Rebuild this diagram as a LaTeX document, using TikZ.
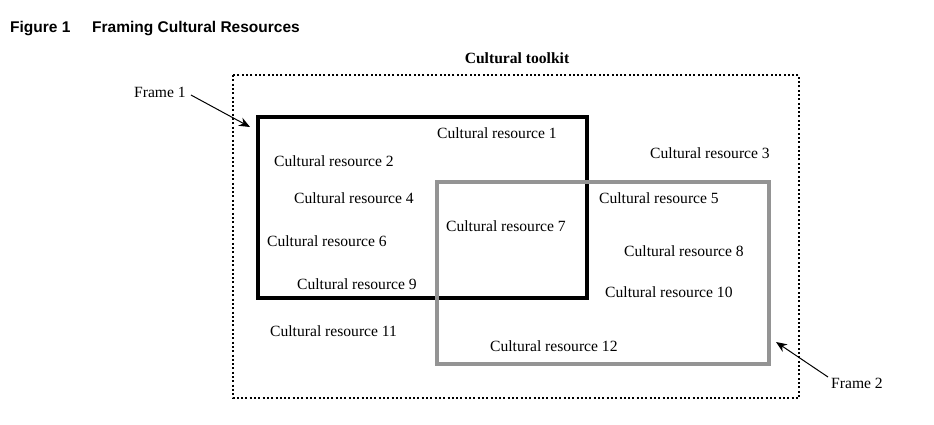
\documentclass[tikz,border=0pt]{standalone}
\usepackage{fontspec}
\setmainfont{Liberation Serif}
\newfontfamily\titlefont{Liberation Sans}
\usetikzlibrary{positioning,arrows.meta}

\tikzset{
  res/.style={anchor=west, inner sep=0pt, font=\fontsize{15.6}{18}\selectfont},
  framelbl/.style={anchor=west, inner sep=0pt, font=\fontsize{15.6}{18}\selectfont},
  ttl/.style={anchor=west, inner sep=0pt, font=\titlefont\bfseries\fontsize{15.5}{18}\selectfont},
  ptr/.style={-{Stealth[length=11pt,width=9pt]}, line width=1pt}
}

\begin{document}
\begin{tikzpicture}[x=1pt, y=-1pt]
    \useasboundingbox (0,0) rectangle (934,424);
    % title
    \node[ttl] (fig) at (10,29) {Figure 1};
    \node[ttl] (title) at (92,29) {Framing Cultural Resources};
    % toolkit and the two frames
    \draw[line width=2pt, dash pattern=on 2pt off 2.3pt] (233,75) rectangle (799,398);
    \node[inner sep=0pt, font=\bfseries\fontsize{15.6}{18}\selectfont] (kit) at (517,58) {Cultural toolkit};
    \draw[line width=3.6pt] (258,117) rectangle (587,298);
    \draw[line width=3.6pt, color=black!42] (437,182) rectangle (769,364);
    \coordinate (f1tip) at (250,127);
    \coordinate (f2tip) at (776,342);
    % resources
    \node[res] (r1) at (437,133) {Cultural resource 1};
    \node[res] (r2) at (274,161) {Cultural resource 2};
    \node[res] (r3) at (650,153) {Cultural resource 3};
    \node[res] (r4) at (294,198) {Cultural resource 4};
    \node[res] (r5) at (599,198) {Cultural resource 5};
    \node[res] (r6) at (267,241) {Cultural resource 6};
    \node[res] (r7) at (446,226) {Cultural resource 7};
    \node[res] (r8) at (624,251) {Cultural resource 8};
    \node[res] (r9) at (297,284) {Cultural resource 9};
    \node[res] (r10) at (605,292) {Cultural resource 10};
    \node[res] (r11) at (270,331) {Cultural resource 11};
    \node[res] (r12) at (490,346) {Cultural resource 12};
    % frame labels
    \node[framelbl] (f1) at (134,92) {Frame 1};
    \node[framelbl] (f2) at (831,383) {Frame 2};
    \draw[ptr] (f1.east) ++(5,3) -- (f1tip);
    \draw[ptr] (f2.west) ++(-3,-6) -- (f2tip);
  \end{tikzpicture}
\end{document}
